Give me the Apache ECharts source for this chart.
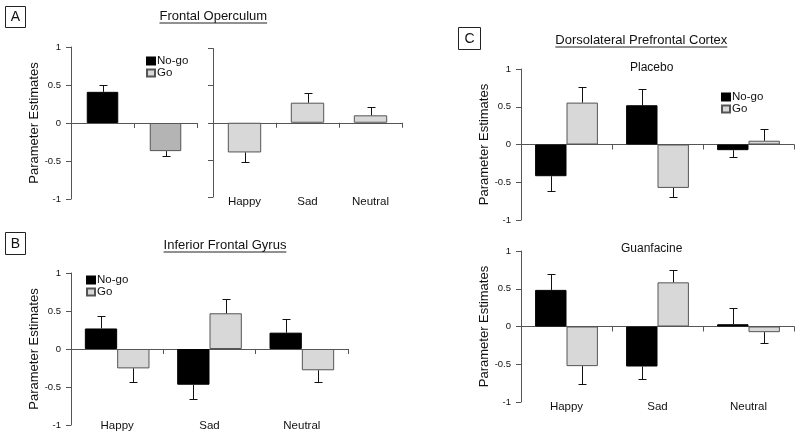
<!DOCTYPE html>
<html><head><meta charset="utf-8">
<script src="https://cdn.jsdelivr.net/npm/echarts@6/dist/echarts.min.js"></script>
<style>html,body{margin:0;padding:0;background:#fff}#c{width:800px;height:437px}</style>
</head><body><div id="c"></div>
<script>
// ---------- data ----------
const emotions = ['Happy', 'Sad', 'Neutral'];
const responses = ['No-go', 'Go'];
const yTicks = [-1, -0.5, 0, 0.5, 1];

// Panel A: Frontal Operculum
const aRespValues = [0.41, -0.37];
const aRespErr = [0.09, 0.07];
const aEmoGoValues = [-0.40, 0.27, 0.10];
const aEmoGoErr = [0.13, 0.13, 0.11];

// Panel B: Inferior Frontal Gyrus
const bNoGo = [0.27, -0.47, 0.215];
const bNoGoErr = [0.17, 0.19, 0.175];
const bGo = [-0.255, 0.47, -0.28];
const bGoErr = [0.175, 0.19, 0.16];

// Panel C: Dorsolateral Prefrontal Cortex - Placebo
const cpNoGo = [-0.42, 0.52, -0.075];
const cpNoGoErr = [0.20, 0.215, 0.095];
const cpGo = [0.555, -0.575, 0.05];
const cpGoErr = [0.205, 0.125, 0.16];

// Panel C: Guanfacine
const cgNoGo = [0.485, -0.53, 0.03];
const cgNoGoErr = [0.215, 0.16, 0.22];
const cgGo = [-0.525, 0.585, -0.075];
const cgGoErr = [0.23, 0.165, 0.15];

// ---------- styles ----------
const FONT = '"Liberation Sans", Arial, Helvetica, sans-serif';
const TXT = '#111';
const AXC = '#555';
const BLACK = '#000';
const GRAY = '#d8d8d8';
const DARKGRAY = '#b4b4b4';
const BORDER = '#555';

const chart = echarts.init(document.getElementById('c'), null, {renderer: 'canvas'});

const grids = [
  {left: 71, top: 47, width: 126, height: 152},   // A left
  {left: 213, top: 48.5, width: 189, height: 148.5}, // A right
  {left: 71, top: 273, width: 277, height: 152},  // B
  {left: 521, top: 69, width: 273, height: 151},  // C placebo
  {left: 521, top: 251, width: 273, height: 151}  // C guanfacine
];

const xAxes = [];
const yAxes = [];
function addAxes(gi, cats, showLabels, labelMargin, showYLabels, yName) {
  xAxes.push({
    type: 'category', gridIndex: gi, data: cats, position: 'bottom',
    axisLine: {show: true, onZero: true, lineStyle: {color: AXC, width: 1}},
    axisTick: {show: true, length: 5, lineStyle: {color: AXC}},
    axisLabel: {show: false}, splitLine: {show: false}
  });
  xAxes.push({
    type: 'category', gridIndex: gi, data: cats, position: 'bottom',
    axisLine: {show: false, onZero: false}, axisTick: {show: false},
    axisLabel: {show: showLabels, margin: labelMargin, fontSize: 11.5, color: TXT, fontFamily: FONT},
    splitLine: {show: false}
  });
  yAxes.push({
    type: 'value', gridIndex: gi, min: yTicks[0], max: yTicks[yTicks.length - 1], interval: 0.5,
    axisLine: {show: true, lineStyle: {color: AXC, width: 1}},
    axisTick: {show: true, length: 5, lineStyle: {color: AXC}},
    axisLabel: {show: showYLabels, fontSize: 9.5, color: TXT, fontFamily: FONT, margin: 10},
    splitLine: {show: false},
    name: yName || '', nameLocation: 'middle', nameGap: 28,
    nameTextStyle: {fontSize: 13, color: TXT, fontFamily: FONT}
  });
}
addAxes(0, responses, false, 0, true, 'Parameter Estimates');
addAxes(1, emotions, true, -1, false, '');
addAxes(2, emotions, true, -5, true, 'Parameter Estimates');
addAxes(3, emotions, false, 0, true, 'Parameter Estimates');
addAxes(4, emotions, true, -1, true, 'Parameter Estimates');

const series = [];
function barSeries(gi, name, data, color, gap, extra) {
  return Object.assign({
    type: 'bar', name: name, xAxisIndex: gi * 2, yAxisIndex: gi, data: data,
    barGap: '0%', barCategoryGap: gap, z: 2,
    itemStyle: {color: color, borderColor: color === BLACK ? BLACK : BORDER, borderWidth: 1},
    emphasis: {disabled: true}, animation: false
  }, extra || {});
}
function errSeries(gi, vals, errs, gapRatio, nBars, offsetSign) {
  return {
    type: 'custom', xAxisIndex: gi * 2, yAxisIndex: gi, z: 5, silent: true, animation: false,
    encode: {x: 0, y: 1},
    data: vals.map((v, i) => [i, v, errs[i]]),
    renderItem: function (params, api) {
      const cat = api.value(0), v = api.value(1), e = api.value(2);
      const end = v >= 0 ? v + e : v - e;
      const p0 = api.coord([cat, v]);
      const p1 = api.coord([cat, end]);
      const bw = api.size([1, 0])[0] * (1 - gapRatio) / nBars;
      const x = Math.round(p0[0] + offsetSign * bw / 2) + 0.5;
      const y1 = Math.round(p1[1]) + 0.5;
      return {type: 'group', children: [
        {type: 'line', shape: {x1: x, y1: p0[1], x2: x, y2: y1}, style: {stroke: '#111', lineWidth: 1}},
        {type: 'line', shape: {x1: x - 4, y1: y1, x2: x + 4, y2: y1}, style: {stroke: '#111', lineWidth: 1}}
      ]};
    }
  };
}

// A left: one bar per response category
series.push(barSeries(0, 'No-go', [aRespValues[0], null], BLACK, '50%', {barGap: '-100%'}));
series.push(barSeries(0, 'Go', [null, {value: aRespValues[1], itemStyle: {color: DARKGRAY}}], GRAY, '50%', {barGap: '-100%'}));
series.push(errSeries(0, aRespValues, aRespErr, 0.5, 1, 0));
// A right: Go by emotion
series.push(barSeries(1, 'Go', aEmoGoValues, GRAY, '47%'));
series.push(errSeries(1, aEmoGoValues, aEmoGoErr, 0.47, 1, 0));
// B
series.push(barSeries(2, 'No-go', bNoGo, BLACK, '30%'));
series.push(barSeries(2, 'Go', bGo, GRAY, '30%'));
series.push(errSeries(2, bNoGo, bNoGoErr, 0.30, 2, -1));
series.push(errSeries(2, bGo, bGoErr, 0.30, 2, 1));
// C placebo
series.push(barSeries(3, 'No-go', cpNoGo, BLACK, '31%'));
series.push(barSeries(3, 'Go', cpGo, GRAY, '31%'));
series.push(errSeries(3, cpNoGo, cpNoGoErr, 0.31, 2, -1));
series.push(errSeries(3, cpGo, cpGoErr, 0.31, 2, 1));
// C guanfacine
series.push(barSeries(4, 'No-go', cgNoGo, BLACK, '31%'));
series.push(barSeries(4, 'Go', cgGo, GRAY, '31%'));
series.push(errSeries(4, cgNoGo, cgNoGoErr, 0.31, 2, -1));
series.push(errSeries(4, cgGo, cgGoErr, 0.31, 2, 1));

function legend(left, top) {
  return {
    data: responses, left: left, top: top, orient: 'vertical', padding: 0,
    itemWidth: 8, itemHeight: 7, itemGap: 0, icon: 'rect', selectedMode: false,
    textStyle: {fontSize: 11.5, color: TXT, fontFamily: FONT, lineHeight: 11, padding: [0, 0, 0, -3]}
  };
}

// text measurement for underlines
const mctx = document.createElement('canvas').getContext('2d');
function tw(t, size) { mctx.font = size + 'px ' + FONT; return mctx.measureText(t).width; }

const graphics = [];
function boxLabel(x, y, w, h, t) {
  graphics.push({type: 'rect', shape: {x: x + 0.5, y: y + 0.5, width: w, height: h},
    style: {fill: 'none', stroke: '#222', lineWidth: 1}});
  graphics.push({type: 'text', x: x + w / 2 + 0.5, y: y + h / 2 + 1,
    style: {text: t, fontSize: 14, fontFamily: FONT, fill: TXT, align: 'center', verticalAlign: 'middle'}});
}
function title(cx, cy, t, underlineY) {
  graphics.push({type: 'text', x: cx, y: cy,
    style: {text: t, fontSize: 13, fontFamily: FONT, fill: TXT, align: 'center', verticalAlign: 'middle'}});
  if (underlineY != null) {
    const w = tw(t, 13);
    graphics.push({type: 'line', shape: {x1: cx - w / 2, y1: underlineY + 0.5, x2: cx + w / 2, y2: underlineY + 0.5},
      style: {stroke: '#222', lineWidth: 1}});
  }
}
boxLabel(5, 6, 20, 21, 'A');
boxLabel(5, 232, 20, 22, 'B');
boxLabel(458, 27, 22, 22, 'C');
title(213.3, 16, 'Frontal Operculum', 22.5);
title(225, 245, 'Inferior Frontal Gyrus', 251.5);
title(641.3, 40, 'Dorsolateral Prefrontal Cortex', 46.5);
graphics.push({type: 'text', x: 651.7, y: 68, style: {text: 'Placebo', fontSize: 12, fontFamily: FONT, fill: TXT, align: 'center', verticalAlign: 'middle'}});
graphics.push({type: 'text', x: 651.7, y: 249, style: {text: 'Guanfacine', fontSize: 12, fontFamily: FONT, fill: TXT, align: 'center', verticalAlign: 'middle'}});

chart.setOption({
  animation: false,
  backgroundColor: '#fff',
  textStyle: {fontFamily: FONT},
  grid: grids.map(g => Object.assign({containLabel: false}, g)),
  xAxis: xAxes,
  yAxis: yAxes,
  legend: [legend(146, 55), legend(86, 274), legend(721, 91)],
  series: series,
  graphic: graphics
});
</script>
</body></html>
